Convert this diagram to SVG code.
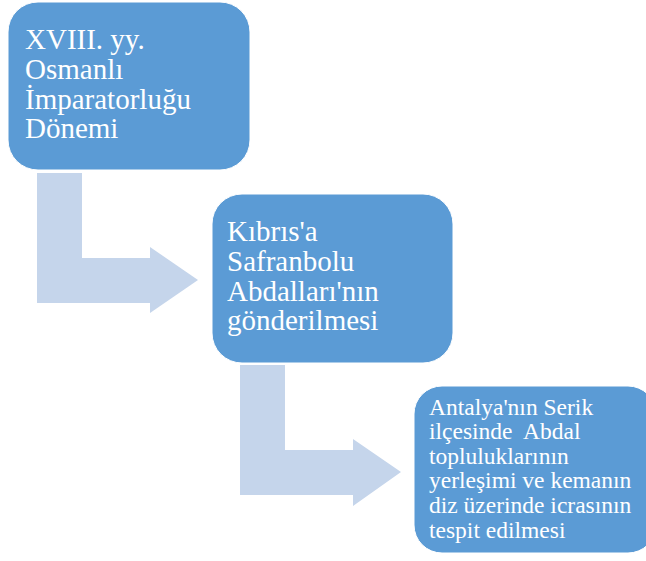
<svg xmlns="http://www.w3.org/2000/svg" width="646" height="561" viewBox="0 0 646 561">
  <style>
    .box { fill: #5B9BD5; stroke: #FFFFFF; stroke-width: 1; }
    .arrow { fill: #C5D5EB; }
    .t { font-family: "Liberation Serif", "Times New Roman", serif; fill: #FFFFFF; }
    .big { font-size: 29px; }
    .small { font-size: 23.5px; white-space: pre; }
  </style>
  <rect width="646" height="561" fill="#FFFFFF"/>

  <!-- bent arrows between stages -->
  <g id="connectors">
    <path class="arrow" d="M37,173 H82 V258 H150 V247 L198,280 L150,313 V303 H37 Z"/>
    <path class="arrow" d="M240,365 H285 V450 H353 V439 L401,472 L353,506 V495 H240 Z"/>
  </g>

  <g id="node-1">
    <rect class="box" x="8" y="2" width="242" height="168" rx="30"/>
    <text class="t big">
      <tspan x="25" y="49">XVIII. yy.</tspan>
      <tspan x="25" y="79">Osmanlı</tspan>
      <tspan x="25" y="109">İmparatorluğu</tspan>
      <tspan x="25" y="138">Dönemi</tspan>
    </text>
  </g>

  <g id="node-2">
    <rect class="box" x="212" y="194" width="241" height="169" rx="30"/>
    <text class="t big">
      <tspan x="227" y="241">Kıbrıs'a</tspan>
      <tspan x="227" y="271">Safranbolu</tspan>
      <tspan x="227" y="301">Abdalları'nın</tspan>
      <tspan x="227" y="330">gönderilmesi</tspan>
    </text>
  </g>

  <g id="node-3">
    <rect class="box" x="414" y="386" width="242" height="167" rx="28"/>
    <text class="t small">
      <tspan x="429" y="415">Antalya'nın Serik</tspan>
      <tspan x="429" y="439">ilçesinde  Abdal</tspan>
      <tspan x="429" y="464">topluluklarının</tspan>
      <tspan x="429" y="488">yerleşimi ve kemanın</tspan>
      <tspan x="429" y="513">diz üzerinde icrasının</tspan>
      <tspan x="429" y="538">tespit edilmesi</tspan>
    </text>
  </g>
</svg>
